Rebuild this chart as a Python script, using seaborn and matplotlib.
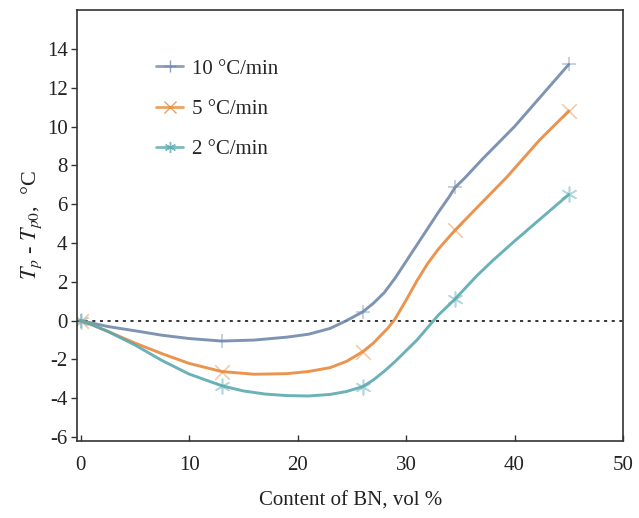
import numpy as np
import pandas as pd
import matplotlib
matplotlib.use("Agg")
import matplotlib.pyplot as plt
import seaborn as sns
from matplotlib.lines import Line2D

# Measured points (markers)
content_pts = [0, 13, 26, 34.5, 45]
rate_10 = [0, -1.05, 0.45, 6.9, 13.2]
rate_5 = [0, -2.62, -1.6, 4.65, 10.8]
rate_2 = [0, -3.35, -3.4, 1.1, 6.5]

# Curve traces
curve_x_10 = [0, 1, 2.5, 5, 7.5, 10, 13, 16, 19, 21, 23, 24.5, 26, 27, 28, 29, 30, 31, 32, 33, 34, 34.5, 35.5, 37, 40, 42.5, 45]
curve_y_10 = [0, -0.12, -0.3, -0.52, -0.75, -0.92, -1.05, -1.0, -0.85, -0.7, -0.4, 0.0, 0.45, 0.9, 1.45, 2.2, 3.05, 3.9, 4.75, 5.6, 6.4, 6.85, 7.4, 8.3, 10.0, 11.6, 13.2]
curve_x_5 = [0, 1, 2.5, 5, 7.5, 10, 13, 16, 19, 21, 23, 24.5, 26, 27, 27.6, 28.3, 29, 30, 31, 32, 33, 34.5, 36.5, 39.3, 42.3, 45]
curve_y_5 = [0, -0.2, -0.55, -1.15, -1.7, -2.2, -2.62, -2.76, -2.73, -2.62, -2.42, -2.1, -1.6, -1.15, -0.8, -0.4, 0.1, 1.05, 2.05, 2.95, 3.7, 4.65, 5.8, 7.4, 9.3, 10.8]
curve_x_2 = [0, 1, 2.5, 5, 7.5, 10, 13, 15, 17, 19, 21, 23, 24.5, 26, 27, 28, 29, 30, 31, 32, 33, 34.5, 36.5, 38, 40, 42.5, 45]
curve_y_2 = [0, -0.2, -0.55, -1.25, -2.05, -2.75, -3.35, -3.62, -3.78, -3.86, -3.88, -3.8, -3.65, -3.4, -3.05, -2.6, -2.1, -1.55, -1.0, -0.35, 0.3, 1.1, 2.3, 3.1, 4.1, 5.3, 6.5]

labels = ["10 °C/min", "5 °C/min", "2 °C/min"]
colors = ["#6f88aa", "#e8893c", "#5aaab0"]
markers = ["+", "x", (6, 2, 0)]

sns.set_theme(style="white")
plt.rcParams["font.family"] = ["Liberation Serif", "DejaVu Serif"]
plt.rcParams["mathtext.fontset"] = "stix"
plt.rcParams["axes.unicode_minus"] = False

fig = plt.figure(figsize=(6.39, 5.18), dpi=100)
ax = fig.add_axes([0.121, 0.1486, 0.854, 0.832])

curves = [(curve_x_10, curve_y_10), (curve_x_5, curve_y_5), (curve_x_2, curve_y_2)]
pts = [rate_10, rate_5, rate_2]
for (cx, cy), py, lab, col, mk in zip(curves, pts, labels, colors, markers):
    dfc = pd.DataFrame({"x": cx, "y": cy})
    sns.lineplot(data=dfc, x="x", y="y", ax=ax, color=col, lw=2.1, alpha=0.9, legend=False)
    dfp = pd.DataFrame({"x": content_pts, "y": py})
    sns.scatterplot(data=dfp, x="x", y="y", ax=ax, color=col, marker=mk, s=110,
                    linewidth=1.2, alpha=0.45, legend=False)
for ln in ax.get_lines():
    ln.set_solid_joinstyle("round")
    ln.set_solid_capstyle("round")

ax.axhline(0, color="black", lw=1.1, ls=(0, (2, 3)), zorder=0)

ax.set_xlim(-0.3, 50)
ax.set_ylim(-6.2, 16)
ax.set_xticks([0, 10, 20, 30, 40, 50])
ax.set_yticks(list(range(-6, 15, 2)))
ax.tick_params(axis="x", direction="in", length=4, width=1, labelsize=15, pad=11, color="#333333", bottom=True)
ax.tick_params(axis="y", direction="out", length=4, width=1, labelsize=15, pad=3, color="#333333", left=True)
for s in ax.spines.values():
    s.set_color("#333333")
    s.set_linewidth(1.2)

ax.set_xlabel("Content of BN, vol %", fontsize=15, labelpad=12, color="#222222")
ax.set_ylabel(r"$T_p$ - $T_{p0}$,  °C", fontsize=16, labelpad=2, color="#222222")
for t in ax.get_xticklabels() + ax.get_yticklabels():
    t.set_color("#222222")

handles = [Line2D([0], [0], color=c, lw=2.0, marker=m, markersize=8, markeredgewidth=1.0, alpha=0.8)
           for c, m in zip(colors, markers)]
ax.legend(handles, labels, loc="upper left", bbox_to_anchor=(0.11, 0.93), frameon=False,
          fontsize=15, handlelength=1.3, handletextpad=0.4, labelspacing=1.0)

fig.savefig("out.png", dpi=100)
